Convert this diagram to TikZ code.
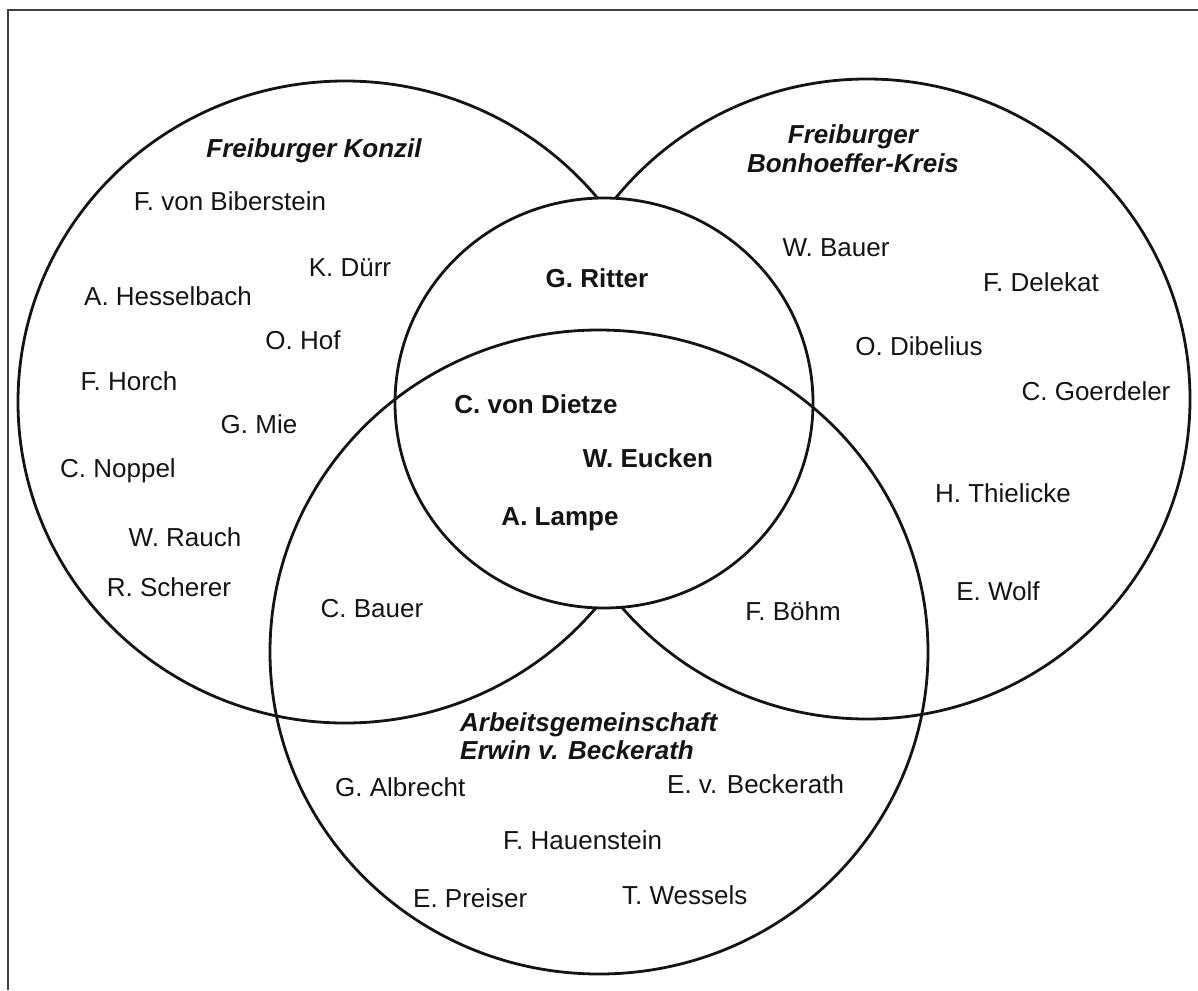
\documentclass[tikz,border=0pt]{standalone}
\usepackage{fontspec}
\setmainfont{Liberation Sans}
\begin{document}
\begin{tikzpicture}[x=1pt,y=-1pt,
  ring/.style={line width=2.8pt, draw=black!92},
  member/.style={font=\fontsize{26}{30}\selectfont, text=black!92,
    text height=19pt, text depth=0pt, inner sep=0pt},
  core/.style={member, font=\fontsize{26}{30}\selectfont\bfseries},
  group/.style={member, font=\fontsize{26}{30}\selectfont\bfseries\itshape}]
\useasboundingbox (0,0) rectangle (1198,990);
% frame (left and top edges)
\draw[line width=1.3pt, black!75] (8,990) -- (8,10) -- (1198,10);

% the four circles
\draw[ring] (345,402) ellipse [x radius=327, y radius=321];
\draw[ring] (867,399) ellipse [x radius=323, y radius=320];
\draw[ring, fill=white] (604,403) ellipse [x radius=209, y radius=205];
\draw[ring] (599,652) ellipse [x radius=329, y radius=322];

% Freiburger Konzil
\node[group] (konzil) at (314,148) {Freiburger Konzil};
\node[member] (biberstein) at (230,201) {F. von Biberstein};
\node[member] (duerr) at (350,267) {K. Dürr};
\node[member] (hesselbach) at (168,296) {A. Hesselbach};
\node[member] (hof) at (303,340) {O. Hof};
\node[member] (horch) at (129,381) {F. Horch};
\node[member] (mie) at (259,424) {G. Mie};
\node[member] (noppel) at (118,468) {C. Noppel};
\node[member] (rauch) at (185,537) {W. Rauch};
\node[member] (scherer) at (169,587) {R. Scherer};
\node[member] (cbauer) at (372,608) {C. Bauer};

% centre
\node[core] (ritter) at (597,278) {G. Ritter};
\node[core] (dietze) at (536,404) {C. von Dietze};
\node[core] (eucken) at (648,458) {W. Eucken};
\node[core] (lampe) at (560,516) {A. Lampe};
\node[member] (boehm) at (793,611) {F. Böhm};

% Freiburger Bonhoeffer-Kreis
\node[group, align=center] (bonhoeffer) at (853,163) {Freiburger\\[-1pt]Bonhoeffer-Kreis};
\node[member] (wbauer) at (836,247) {W. Bauer};
\node[member] (delekat) at (1041,282) {F. Delekat};
\node[member] (dibelius) at (919,346) {O. Dibelius};
\node[member] (goerdeler) at (1096,391) {C. Goerdeler};
\node[member] (thielicke) at (1003,493) {H. Thielicke};
\node[member] (wolf) at (998,591) {E. Wolf};

% Arbeitsgemeinschaft Erwin v. Beckerath
\node[group, anchor=west] (ag1) at (460,722) {Arbeitsgemeinschaft};
\node[group, anchor=west] (ag2) at (460,750) {Erwin v. Beckerath};
\node[member, anchor=west] (albrecht) at (335,787) {G. Albrecht};
\node[member, anchor=west] (beckerath) at (667,784) {E. v. Beckerath};
\node[member, anchor=west] (hauenstein) at (503,840) {F. Hauenstein};
\node[member, anchor=west] (preiser) at (413,898) {E. Preiser};
\node[member, anchor=west] (wessels) at (622,895) {T. Wessels};
\end{tikzpicture}
\end{document}
